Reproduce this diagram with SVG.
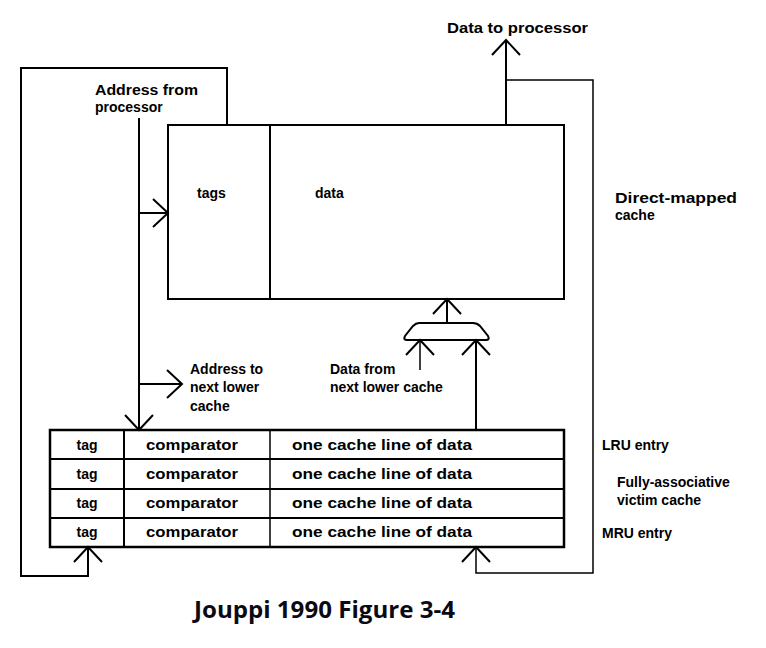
<svg xmlns="http://www.w3.org/2000/svg" width="766" height="648" viewBox="0 0 766 648">
<style>
.ln{fill:none;stroke:#000;stroke-width:2;stroke-linejoin:miter}
.thin{fill:none;stroke:#000;stroke-width:1.5}
.box{fill:#fff;stroke:#000;stroke-width:2}
.tb{fill:#fff;stroke:#000;stroke-width:2.5}
.t{font-family:"Liberation Sans",Arial,sans-serif;font-weight:bold;font-size:14px;fill:#000}
.cap{font-family:"Open Sans","Liberation Sans",sans-serif;font-weight:bold;font-size:24px;fill:#0a0a14}
</style>
<defs>
<marker id="ah" markerUnits="userSpaceOnUse" markerWidth="40" markerHeight="40" viewBox="-20 -20 40 40" refX="0" refY="0" orient="auto">
<path d="M-15,-14 L0,0 L-15,14" fill="none" stroke="#000" stroke-width="2"/>
</marker>
</defs>
<g id="direct-mapped-cache">
<rect class="box" x="168" y="125" width="396" height="174"/>
<line class="ln" x1="270" y1="125" x2="270" y2="299"/>
<text class="t" x="197" y="198">tags</text>
<text class="t" x="315" y="198">data</text>
</g>
<g id="mux">
<path class="box" d="M419,323 L473,323 Q477,323 480,326 L488,336 Q490,340 486,340 L407,340 Q403,340 405,336 L413,326 Q416,323 419,323 Z"/>
</g>
<g id="victim-cache">
<rect class="tb" x="50" y="430" width="514" height="117"/>
<line class="ln" x1="50" y1="459" x2="564" y2="459"/>
<line class="ln" x1="50" y1="489" x2="564" y2="489"/>
<line class="ln" x1="50" y1="518" x2="564" y2="518"/>
<line class="ln" x1="124" y1="430" x2="124" y2="547"/>
<line class="thin" x1="270" y1="430" x2="270" y2="547"/>
<g class="t">
<text x="87" y="450" text-anchor="middle">tag</text>
<text x="87" y="479" text-anchor="middle">tag</text>
<text x="87" y="508" text-anchor="middle">tag</text>
<text x="87" y="537" text-anchor="middle">tag</text>
<text x="192" y="450" text-anchor="middle" textLength="92" lengthAdjust="spacingAndGlyphs">comparator</text>
<text x="192" y="479" text-anchor="middle" textLength="92" lengthAdjust="spacingAndGlyphs">comparator</text>
<text x="192" y="508" text-anchor="middle" textLength="92" lengthAdjust="spacingAndGlyphs">comparator</text>
<text x="192" y="537" text-anchor="middle" textLength="92" lengthAdjust="spacingAndGlyphs">comparator</text>
<text x="292" y="450" textLength="180" lengthAdjust="spacingAndGlyphs">one cache line of data</text>
<text x="292" y="479" textLength="180" lengthAdjust="spacingAndGlyphs">one cache line of data</text>
<text x="292" y="508" textLength="180" lengthAdjust="spacingAndGlyphs">one cache line of data</text>
<text x="292" y="537" textLength="180" lengthAdjust="spacingAndGlyphs">one cache line of data</text>
</g>
</g>
<g id="connectors">
<polyline class="ln" points="227,125 227,68 21,68 21,576 88,576 88,547" marker-end="url(#ah)"/>
<line class="ln" x1="139" y1="118" x2="139" y2="430" marker-end="url(#ah)"/>
<line class="ln" x1="139" y1="213" x2="168" y2="213" marker-end="url(#ah)"/>
<line class="ln" x1="139" y1="384" x2="182" y2="384" marker-end="url(#ah)"/>
<line class="ln" x1="506" y1="125" x2="506" y2="40" marker-end="url(#ah)"/>
<polyline class="thin" points="506,80 593,80 593,573 476,573 476,547" marker-end="url(#ah)"/>
<line class="ln" x1="447" y1="323" x2="447" y2="299" marker-end="url(#ah)"/>
<line class="thin" x1="420" y1="370" x2="420" y2="340" marker-end="url(#ah)"/>
<line class="ln" x1="476" y1="430" x2="476" y2="340" marker-end="url(#ah)"/>
</g>
<g id="labels" class="t">
<text x="447" y="33" textLength="141" lengthAdjust="spacingAndGlyphs">Data to processor</text>
<text x="95" y="95" textLength="103" lengthAdjust="spacingAndGlyphs">Address from</text>
<text x="95" y="112">processor</text>
<text x="615" y="203" textLength="122" lengthAdjust="spacingAndGlyphs">Direct-mapped</text>
<text x="615" y="220">cache</text>
<text x="190" y="374">Address to</text>
<text x="190" y="392">next lower</text>
<text x="190" y="411">cache</text>
<text x="330" y="374">Data from</text>
<text x="330" y="392">next lower cache</text>
<text x="602" y="450">LRU entry</text>
<text x="617" y="487">Fully-associative</text>
<text x="617" y="505">victim cache</text>
<text x="602" y="538">MRU entry</text>
</g>
<text class="cap" x="194" y="618" textLength="261" lengthAdjust="spacingAndGlyphs">Jouppi 1990 Figure 3-4</text>
</svg>
